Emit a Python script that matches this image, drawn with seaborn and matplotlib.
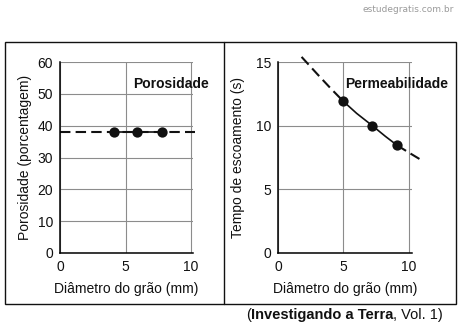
import matplotlib
matplotlib.use("Agg")
import matplotlib.pyplot as plt
import seaborn as sns
from matplotlib.patches import Rectangle
from matplotlib.lines import Line2D

# Porosity panel
por_x = [4.1, 5.9, 7.8]
por_y = [38, 38, 38]
por_trend_x = [0.0, 10.3]
por_trend_y = [38, 38]

# Permeability panel
perm_x = [5.0, 7.2, 9.1]
perm_y = [11.9, 10.0, 8.45]
perm_head_x = [1.8, 3.0, 4.0, 5.0]
perm_head_y = [15.4, 14.05, 12.95, 11.9]
perm_mid_x = [5.0, 6.0, 7.2, 8.2, 9.1]
perm_mid_y = [11.9, 10.97, 10.0, 9.16, 8.45]
perm_tail_x = [9.1, 10.0, 11.1]
perm_tail_y = [8.45, 7.88, 7.2]

por_ticks = [0, 10, 20, 30, 40, 50, 60]
perm_ticks = [0, 5, 10, 15]
x_ticks = [0, 5, 10]

sns.set_style("white")
plt.rcParams["font.family"] = ["Liberation Sans", "DejaVu Sans"]

fig = plt.figure(figsize=(4.58, 3.33), dpi=100)
W, H = 458, 333

def px_axes(x0, x1, ytop, ybot):
    return fig.add_axes([x0 / W, (H - ybot) / H, (x1 - x0) / W, (ybot - ytop) / H])

ax1 = px_axes(60, 193, 62, 253)
ax2 = px_axes(278, 412, 62, 253)

def style(ax, xmax, ymax, yticks):
    ax.set_xlim(0, xmax)
    ax.set_ylim(0, ymax)
    ax.set_xticks(x_ticks)
    ax.set_yticks(yticks)
    ax.grid(True, color="#8c8c8c", lw=0.8)
    for s in ["top", "right"]:
        ax.spines[s].set_visible(False)
    for s in ["left", "bottom"]:
        ax.spines[s].set_color("black")
        ax.spines[s].set_linewidth(1.1)
    ax.tick_params(axis="both", length=3, width=0.8, colors="#8c8c8c",
                   labelsize=10, pad=2, labelcolor="#111111")
    ax.set_xlabel("Diâmetro do grão (mm)", fontsize=10, labelpad=6, color="#111111")
    ax.set_facecolor("none")

def dashed(ax, x, y):
    sns.lineplot(x=x, y=y, ax=ax, color="#111111", lw=1.5, sort=False,
                 estimator=None, legend=False)
    ax.lines[-1].set_dashes([5, 2.5])
    ax.lines[-1].set_clip_on(False)

def solid(ax, x, y):
    sns.lineplot(x=x, y=y, ax=ax, color="#111111", lw=1.2, sort=False,
                 estimator=None, legend=False)

def dots(ax, x, y):
    sns.scatterplot(x=x, y=y, ax=ax, color="#111111", s=55, edgecolor="#111111",
                    linewidth=0, zorder=5, clip_on=False, legend=False)

# Left: porosity
style(ax1, 10.15, 60, por_ticks)
dashed(ax1, por_trend_x, por_trend_y)
solid(ax1, por_x, por_y)
dots(ax1, por_x, por_y)
ax1.set_ylabel("Porosidade (porcentagem)", fontsize=10, labelpad=4, color="#111111")
ax1.text(5.55, 53, "Porosidade", fontsize=10, fontweight="bold", va="center", ha="left",
         color="#111111")

# Right: permeability
style(ax2, 10.23, 15, perm_ticks)
dashed(ax2, perm_head_x, perm_head_y)
solid(ax2, perm_mid_x, perm_mid_y)
dashed(ax2, perm_tail_x, perm_tail_y)
dots(ax2, perm_x, perm_y)
ax2.set_ylabel("Tempo de escoamento (s)", fontsize=10, labelpad=8, color="#111111")
ax2.text(5.1, 13.3, "Permeabilidade", fontsize=10, fontweight="bold", va="center",
         ha="left", color="#111111", clip_on=False)

# Frames around the two panels
fig.patches.append(Rectangle((4.5 / W, (H - 303.5) / H), (455.5 - 4.5) / W, (303.5 - 41.5) / H,
                             transform=fig.transFigure, fill=False, ec="#111111", lw=1.0))
fig.lines.append(Line2D([223.5 / W, 223.5 / W], [(H - 303.5) / H, (H - 41.5) / H],
                        transform=fig.transFigure, color="#111111", lw=1.0))

# Watermark
fig.text(454 / W, 1 - 9 / H, "estudegratis.com.br", fontsize=6.5, color="#9a9a9a",
         ha="right", va="center", family="DejaVu Sans")

# Source caption, with the title in bold
prev = fig.text(246 / W, 1 - 315 / H, "(", fontsize=10.5, va="center", ha="left",
                color="#111111")
for txt, wgt in [("Investigando a Terra", "bold"), (", Vol. 1)", "normal")]:
    prev = plt.annotate(txt, xy=(1, 0.5), xycoords=prev, va="center", ha="left",
                        fontsize=10.5, fontweight=wgt, color="#111111",
                        annotation_clip=False)

fig.savefig("out.png", dpi=100)
